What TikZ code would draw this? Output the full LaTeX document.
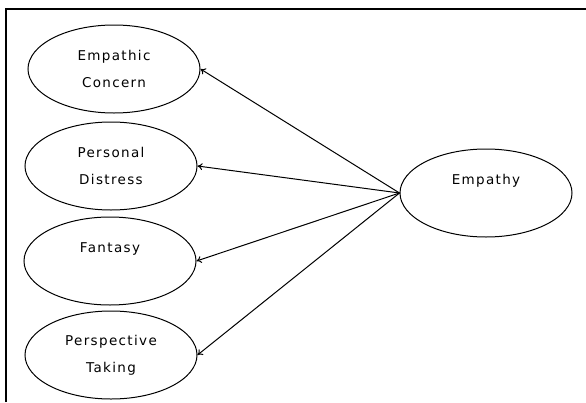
\documentclass[tikz,border=0pt]{standalone}
\usepackage{fontspec}
\usetikzlibrary{shapes.geometric,arrows.meta}
\newfontfamily\diagfont[LetterSpace=10]{DejaVu Sans}
\begin{document}
\begin{tikzpicture}[x=1pt,y=-1pt,>={To[length=5pt,width=7pt]},
  factor/.style={draw,ellipse,line width=1pt,minimum width=172pt,minimum height=88pt,
    inner sep=0pt,align=center,font=\diagfont\fontsize{13.5}{27}\selectfont}]
\useasboundingbox (0,0) rectangle (586,402);
\draw[line width=1.6pt] (6,402)--(6,9)--(586,9);
\node[factor] (ec) at (114,69) {Empathic\\Concern};
\node[factor] (pd) at (111,166) {Personal\\Distress};
\node[factor] (fa) at (110,261) {Fantasy\\\mbox{}};
\node[factor] (pt) at (111,355) {Perspective\\Taking};
\node[factor] (em) at (486,193) {Empathy\\\mbox{}};
\draw[->,line width=1pt] (em.west)--(ec.east);
\draw[->,line width=1pt] (em.west)--(pd.east);
\draw[->,line width=1pt] (em.west)--(fa.east);
\draw[->,line width=1pt] (em.west)--(pt.east);
\end{tikzpicture}
\end{document}
